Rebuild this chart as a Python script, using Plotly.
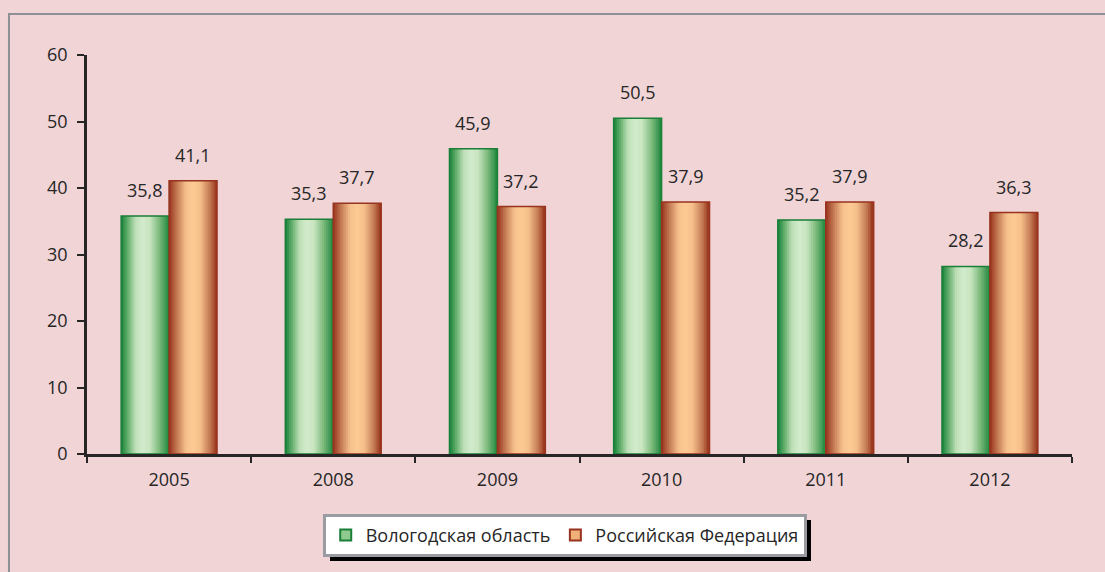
import plotly.graph_objects as go

years = ["2005", "2008", "2009", "2010", "2011", "2012"]
vologda = [35.8, 35.3, 45.9, 50.5, 35.2, 28.2]
russia = [41.1, 37.7, 37.2, 37.9, 37.9, 36.3]
series_names = ["Вологодская область", "Российская Федерация"]

FONT = "Open Sans"
TXT = "#262626"
BG = "#F0D4D6"
FS = 18

# gradient profiles (position across bar, colour)
green_prof = [(0.0, "#15803a"), (0.12, "#5aa964"), (0.3, "#bfe0b8"), (0.45, "#d2ebcc"),
              (0.6, "#c8e5c0"), (0.8, "#7ab97a"), (0.94, "#3a9550"), (1.0, "#1e8a3c")]
orange_prof = [(0.0, "#97331d"), (0.15, "#c07550"), (0.35, "#f5c08c"), (0.5, "#fdca94"),
               (0.65, "#f5bf8a"), (0.85, "#c37a55"), (0.95, "#a5482a"), (1.0, "#983520")]


def hex2rgb(h):
    h = h.lstrip("#")
    return [int(h[i:i + 2], 16) for i in (0, 2, 4)]


def interp(prof, t):
    for (t0, c0), (t1, c1) in zip(prof[:-1], prof[1:]):
        if t0 <= t <= t1:
            a = (t - t0) / (t1 - t0) if t1 > t0 else 0
            r0, r1 = hex2rgb(c0), hex2rgb(c1)
            c = [round(r0[k] + (r1[k] - r0[k]) * a) for k in range(3)]
            return "rgb(%d,%d,%d)" % tuple(c)
    return prof[-1][1]


BW = 0.292
N = 26
fig = go.Figure()

specs = [(vologda, -BW, green_prof, "#1a7f38", series_names[0], "#8fcb8f"),
         (russia, 0.0, orange_prof, "#98331e", series_names[1], "#f0b07a")]

for vals, off0, prof, edge, name, legc in specs:
    sw = BW / N
    for i in range(N):
        t = (i + 0.5) / N
        fig.add_trace(go.Bar(
            x=years, y=vals, width=sw * 1.6 if i < N - 1 else sw,
            offset=off0 + i * sw,
            marker=dict(color=interp(prof, t), line=dict(width=0)),
            showlegend=False, hoverinfo="skip"))
    # outline
    fig.add_trace(go.Bar(
        x=years, y=vals, width=BW, offset=off0,
        marker=dict(color="rgba(0,0,0,0)", line=dict(color=edge, width=1.5)),
        showlegend=False, hoverinfo="skip"))

# legend entries
for vals, off0, prof, edge, name, legc in specs:
    fig.add_trace(go.Scatter(
        x=[None], y=[None], mode="markers", name=name,
        marker=dict(symbol="square", size=11, color=legc, line=dict(color=edge, width=2))))

# value labels
for vals, off0 in [(vologda, -BW), (russia, 0.0)]:
    for i, v in enumerate(vals):
        fig.add_annotation(
            x=i + off0 + BW / 2, y=v, xref="x", yref="y",
            text=("%.1f" % v).replace(".", ","), showarrow=False,
            yanchor="bottom", yshift=12,
            font=dict(family=FONT, size=FS, color=TXT))

# frame and legend shadow
fig.add_shape(type="rect", xref="paper", yref="paper",
              x0=-0.0792, y0=-0.6, x1=1.2, y1=1.1028,
              line=dict(color="#8e9096", width=2), fillcolor="rgba(0,0,0,0)", layer="below")
fig.add_shape(type="rect", xref="paper", yref="paper",
              x0=0.2467, x1=0.735, y0=-0.268, y1=-0.1654,
              line=dict(width=0), fillcolor="#000000", layer="above")

fig.update_layout(
    width=1105, height=572,
    margin=dict(l=87, r=33, t=55, b=118),
    paper_bgcolor=BG, plot_bgcolor=BG,
    barmode="overlay",
    separators=", ",
    font=dict(family=FONT, size=FS, color=TXT),
    showlegend=True,
    legend=dict(orientation="h", x=0.485, xanchor="center", y=-0.15, yanchor="top",
                bgcolor="#ffffff", bordercolor="#9a9ca2", borderwidth=3,
                font=dict(family=FONT, size=FS, color=TXT)),
    xaxis=dict(type="category", categoryorder="array", categoryarray=years,
               tickson="boundaries", ticks="outside", ticklen=6, tickwidth=2,
               tickcolor=TXT, showline=True, linecolor=TXT, linewidth=2.5,
               showgrid=False, zeroline=False, range=[-0.5, 5.5],
               ticklabelstandoff=8,
               tickfont=dict(family=FONT, size=FS, color=TXT), fixedrange=True),
    yaxis=dict(range=[0, 60], tickvals=[0, 10, 20, 30, 40, 50, 60],
               ticks="outside", ticklen=7, tickwidth=2, tickcolor=TXT,
               showline=True, linecolor=TXT, linewidth=2.5, showgrid=False,
               zeroline=False, ticklabelstandoff=6,
               tickfont=dict(family=FONT, size=FS, color=TXT), fixedrange=True),
)

fig.write_html("out.html", config={"displayModeBar": False},
               post_script="document.body.style.margin='0';document.body.style.overflow='hidden';")
